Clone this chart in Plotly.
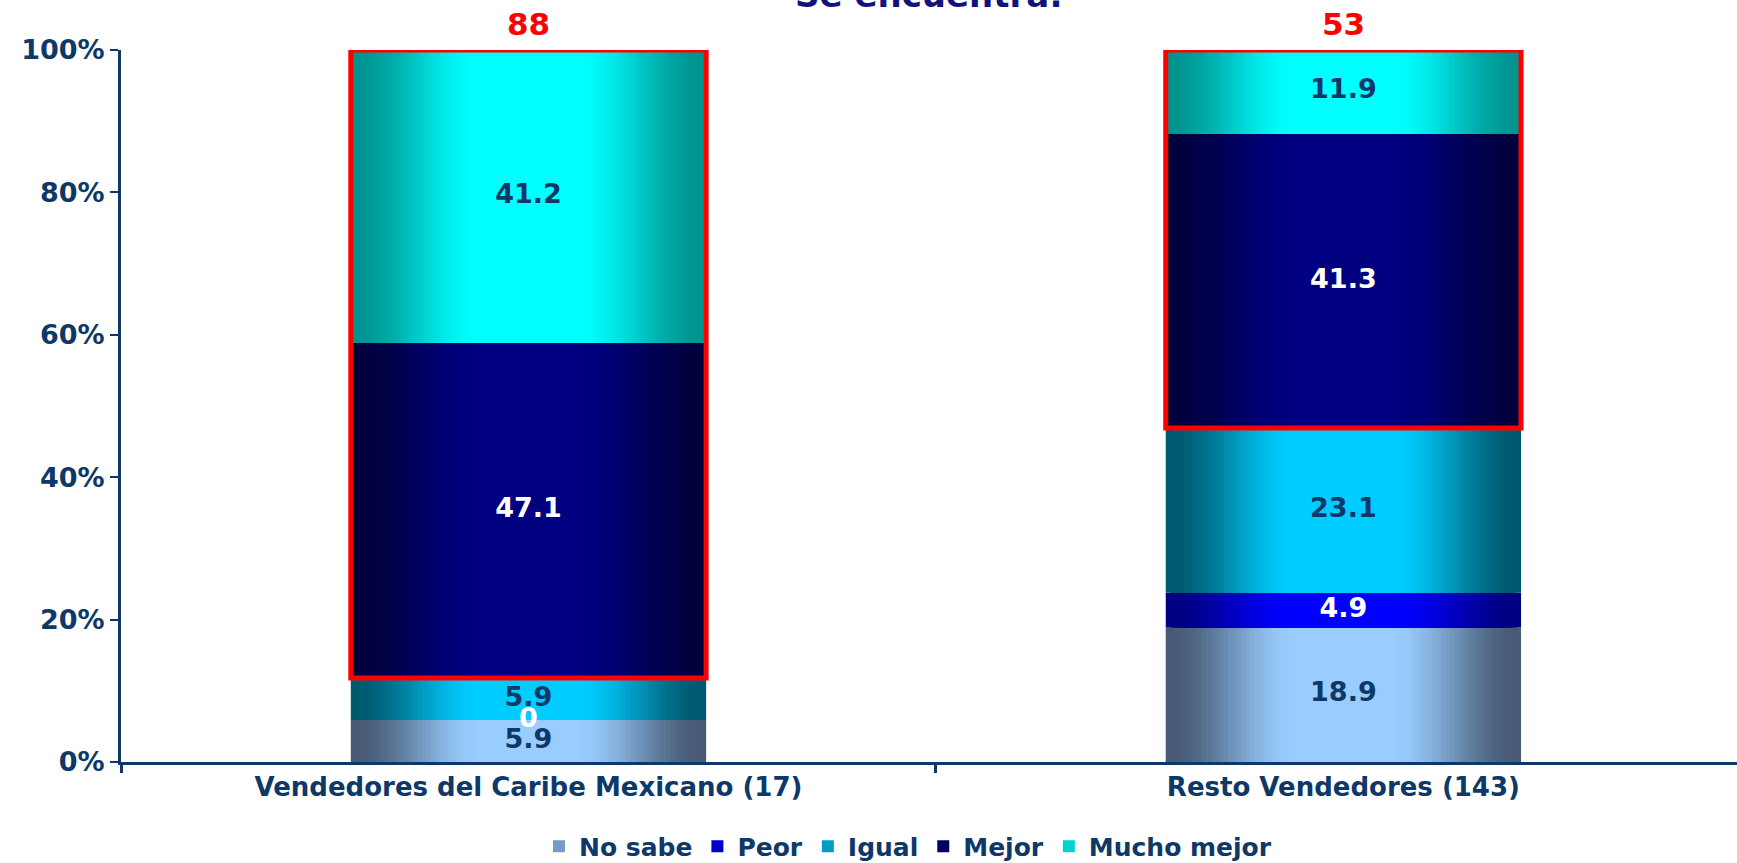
import plotly.graph_objects as go

# ---- data ----
categories = ["Vendedores del Caribe Mexicano (17)", "Resto Vendedores (143)"]
series_names = ["No sabe", "Peor", "Igual", "Mejor", "Mucho mejor"]
no_sabe = [5.9, 18.9]
peor = [0, 4.9]
igual = [5.9, 23.1]
mejor = [47.1, 41.3]
mucho_mejor = [41.2, 11.9]
y_ticks = [0, 20, 40, 60, 80, 100]

series_values = [no_sabe, peor, igual, mejor, mucho_mejor]

# ---- style ----
NAVY = "#0d3868"
edge_colors = ["#465a74", "#000080", "#005a6e", "#00003c", "#009490"]
center_colors = ["#99ccff", "#0000ff", "#00ccff", "#000080", "#00ffff"]
label_colors = [NAVY, "white", NAVY, "white", NAVY]
FONT = "DejaVu Sans"
BAR_W = 0.436
N_STEPS = 40
FLAT_START = 0.36  # fraction of half width over which the gradient runs


def hex2rgb(h):
    h = h.lstrip("#")
    return tuple(int(h[i:i + 2], 16) for i in (0, 2, 4))


def mix(c1, c2, t):
    a, b = hex2rgb(c1), hex2rgb(c2)
    return "rgb(%d,%d,%d)" % tuple(round(a[i] + (b[i] - a[i]) * t) for i in range(3))


fig = go.Figure()

bases = [[0.0] * len(categories)]
for vals in series_values[:-1]:
    bases.append([bases[-1][i] + vals[i] for i in range(len(categories))])

for s, (name, vals) in enumerate(zip(series_names, series_values)):
    legend_done = False
    for k in range(N_STEPS):
        d = k / (2 * N_STEPS)
        t = min(1.0, d / FLAT_START)
        tt = t * t * (3 - 2 * t)
        show = (not legend_done) and t >= 0.55
        if show:
            legend_done = True
        fig.add_trace(go.Bar(
            x=categories, y=vals, base=bases[s],
            width=BAR_W * (1 - k / N_STEPS),
            marker=dict(color=mix(edge_colors[s], center_colors[s], tt), line=dict(width=0)),
            name=name, legendgroup=name, showlegend=show, hoverinfo="skip",
        ))
        if t >= 1.0:
            break

# value labels
for s, vals in enumerate(series_values):
    fig.add_trace(go.Scatter(
        x=categories,
        y=[bases[s][i] + vals[i] / 2 for i in range(len(categories))],
        mode="text",
        text=[("%g" % v) for v in vals],
        textfont=dict(family=FONT, size=27, color=label_colors[s], weight="bold"),
        showlegend=False, hoverinfo="skip",
    ))

# red boxes and totals around "Mejor" + "Mucho mejor"
for i, cat in enumerate(categories):
    total = mejor[i] + mucho_mejor[i]
    fig.add_shape(type="rect", xref="x", yref="y",
                  x0=i - BAR_W / 2, x1=i + BAR_W / 2,
                  y0=bases[3][i], y1=100,
                  line=dict(color="#ff0000", width=5), fillcolor="rgba(0,0,0,0)")
    fig.add_annotation(x=cat, xref="x", y=1.036, yref="paper", yanchor="middle",
                       text=str(round(total)), showarrow=False,
                       font=dict(family=FONT, size=31, color="#ff0000", weight="bold"))

fig.add_annotation(x=0.5, xref="paper", y=1.047, yref="paper", yanchor="bottom",
                   text="Se encuentra:", showarrow=False,
                   font=dict(family=FONT, size=34, color="#12127a", weight="bold"))

fig.update_layout(
    width=1737, height=863,
    barmode="overlay",
    paper_bgcolor="white", plot_bgcolor="white",
    margin=dict(l=121, r=0, t=50, b=101, autoexpand=False),
    font=dict(family=FONT, color=NAVY),
    legend=dict(orientation="h", x=0.487, xanchor="center",
                yref="container", y=0.019, yanchor="middle",
                font=dict(family=FONT, size=25, color=NAVY, weight="bold"),
                itemwidth=30, traceorder="normal", bgcolor="rgba(0,0,0,0)"),
    xaxis=dict(type="category", range=[-0.5, 1.483], showline=True, linecolor=NAVY, linewidth=3,
               ticks="outside", tickson="boundaries", ticklen=8, tickwidth=3, tickcolor=NAVY,
               showgrid=False, zeroline=False, automargin=False,
               tickfont=dict(family=FONT, size=26, color=NAVY, weight="bold")),
    yaxis=dict(range=[0, 100], tickvals=y_ticks, ticktext=["%d%%" % v for v in y_ticks],
               showline=True, linecolor=NAVY, linewidth=3, ticks="outside", ticklen=8,
               tickwidth=2, tickcolor=NAVY, showgrid=False, zeroline=False, automargin=False,
               tickfont=dict(family=FONT, size=27, color=NAVY, weight="bold")),
)

fig.write_html("out.html", config={"displayModeBar": False},
               post_script="document.body.style.margin='0';document.body.style.overflow='hidden';")
